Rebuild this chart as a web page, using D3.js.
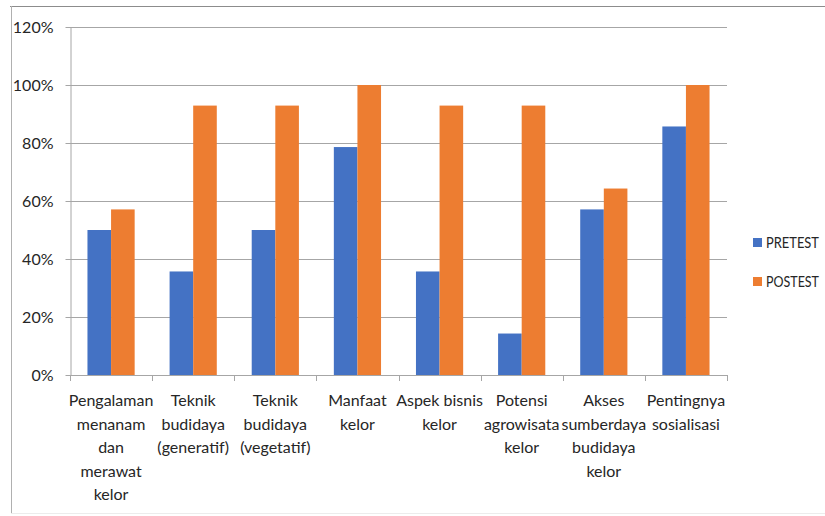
<!DOCTYPE html>
<html>
<head>
<meta charset="utf-8">
<script src="https://cdn.jsdelivr.net/npm/d3@7"></script>
<style>
  body { margin: 0; background: #fff; }
  svg text { font-family: Lato, "Liberation Sans Narrow", sans-serif; fill: #262626; }
</style>
</head>
<body>
<svg id="chart" width="825" height="516"></svg>
<script>
// category labels, already wrapped the way the picture shows them
const categories = [
  ["Pengalaman", "menanam", "dan", "merawat", "kelor"],
  ["Teknik", "budidaya", "(generatif)"],
  ["Teknik", "budidaya", "(vegetatif)"],
  ["Manfaat", "kelor"],
  ["Aspek bisnis", "kelor"],
  ["Potensi", "agrowisata", "kelor"],
  ["Akses", "sumberdaya", "budidaya", "kelor"],
  ["Pentingnya", "sosialisasi"]
];
const series = ["PRETEST", "POSTEST"];
const pretest = [0.50, 0.357, 0.50, 0.786, 0.357, 0.143, 0.571, 0.857];
const posttest = [0.571, 0.929, 0.929, 1.0, 0.929, 0.929, 0.643, 1.0];
const yTicks = [0, 0.2, 0.4, 0.6, 0.8, 1.0, 1.2];
const colors = ["#4472C4", "#ED7D31"];

const margin = { left: 70, right: 98, top: 27, bottom: 141 };
const width = 825, height = 516;

const svg = d3.select("#chart");

// chart frame: top and left edges visible, bottom faint, right cut off
svg.append("line")
  .attr("x1", 10).attr("x2", 825).attr("y1", 6.5).attr("y2", 6.5)
  .attr("stroke", "#8c8c8c");
svg.append("line")
  .attr("x1", 11.5).attr("x2", 11.5).attr("y1", 6).attr("y2", 513)
  .attr("stroke", "#b0b0b0");
svg.append("line")
  .attr("x1", 11).attr("x2", 825).attr("y1", 513.5).attr("y2", 513.5)
  .attr("stroke", "#ececec");

const x = d3.scaleBand()
  .domain(d3.range(categories.length))
  .range([margin.left, width - margin.right])
  .padding(0);

const xInner = d3.scaleBand()
  .domain(series)
  .range([0, x.bandwidth()])
  .paddingInner(0)
  .paddingOuter(0.74);

const y = d3.scaleLinear()
  .domain([0, 1.2])
  .range([height - margin.bottom, margin.top]);

// gridlines
svg.append("g")
  .selectAll("line")
  .data(yTicks.slice(1))
  .join("line")
  .attr("x1", margin.left).attr("x2", width - margin.right)
  .attr("y1", d => Math.round(y(d)) + 0.5).attr("y2", d => Math.round(y(d)) + 0.5)
  .attr("stroke", "#a6a6a6");

// y axis
const yAxis = svg.append("g")
  .attr("transform", `translate(${margin.left + 0.5},0)`)
  .call(d3.axisLeft(y).tickValues(yTicks).tickFormat(d3.format(".0%")).tickSize(5).tickPadding(12));
yAxis.selectAll("line, path").attr("stroke", "#a6a6a6");
yAxis.select(".domain").attr("d", `M0.5,${y(1.2)}V${y(0)}`);
yAxis.selectAll("text")
  .style("font-size", "16px")
  .attr("fill", "#262626");

// bars
const data = categories.map((c, i) => [
  { s: series[0], v: pretest[i], i },
  { s: series[1], v: posttest[i], i }
]);

svg.append("g")
  .selectAll("g")
  .data(data)
  .join("g")
  .attr("transform", (d, i) => `translate(${x(i)},0)`)
  .selectAll("rect")
  .data(d => d)
  .join("rect")
  .attr("x", d => xInner(d.s))
  .attr("width", xInner.bandwidth())
  .attr("y", d => y(d.v))
  .attr("height", d => y(0) - y(d.v))
  .attr("fill", (d, j) => colors[j]);

// x axis with ticks at category boundaries
const xAxisG = svg.append("g");
xAxisG.append("line")
  .attr("x1", margin.left).attr("x2", width - margin.right)
  .attr("y1", y(0) + 0.5).attr("y2", y(0) + 0.5)
  .attr("stroke", "#a6a6a6");
xAxisG.selectAll("line.tick")
  .data(d3.range(categories.length + 1))
  .join("line")
  .attr("class", "tick")
  .attr("x1", i => Math.round(margin.left + i * x.step()) + 0.5)
  .attr("x2", i => Math.round(margin.left + i * x.step()) + 0.5)
  .attr("y1", y(0)).attr("y2", y(0) + 6)
  .attr("stroke", "#a6a6a6");

const labels = svg.append("g")
  .selectAll("text")
  .data(categories)
  .join("text")
  .attr("text-anchor", "middle")
  .style("font-size", "16px")
  .attr("x", (d, i) => x(i) + x.bandwidth() / 2)
  .attr("y", y(0) + 31);
labels.selectAll("tspan")
  .data(d => d)
  .join("tspan")
  .attr("x", function () { return d3.select(this.parentNode).attr("x"); })
  .attr("dy", (d, j) => j === 0 ? 0 : 23.5)
  .text(d => d);

// legend
const legend = svg.append("g")
  .selectAll("g")
  .data(series)
  .join("g")
  .attr("transform", (d, i) => `translate(753,${238 + i * 39})`);
legend.append("rect")
  .attr("width", 9).attr("height", 9)
  .attr("fill", (d, i) => colors[i]);
legend.append("text")
  .attr("x", 13).attr("y", 10)
  .style("font-size", "15px")
  .attr("textLength", 53)
  .attr("lengthAdjust", "spacingAndGlyphs")
  .text(d => d);
</script>
</body>
</html>
